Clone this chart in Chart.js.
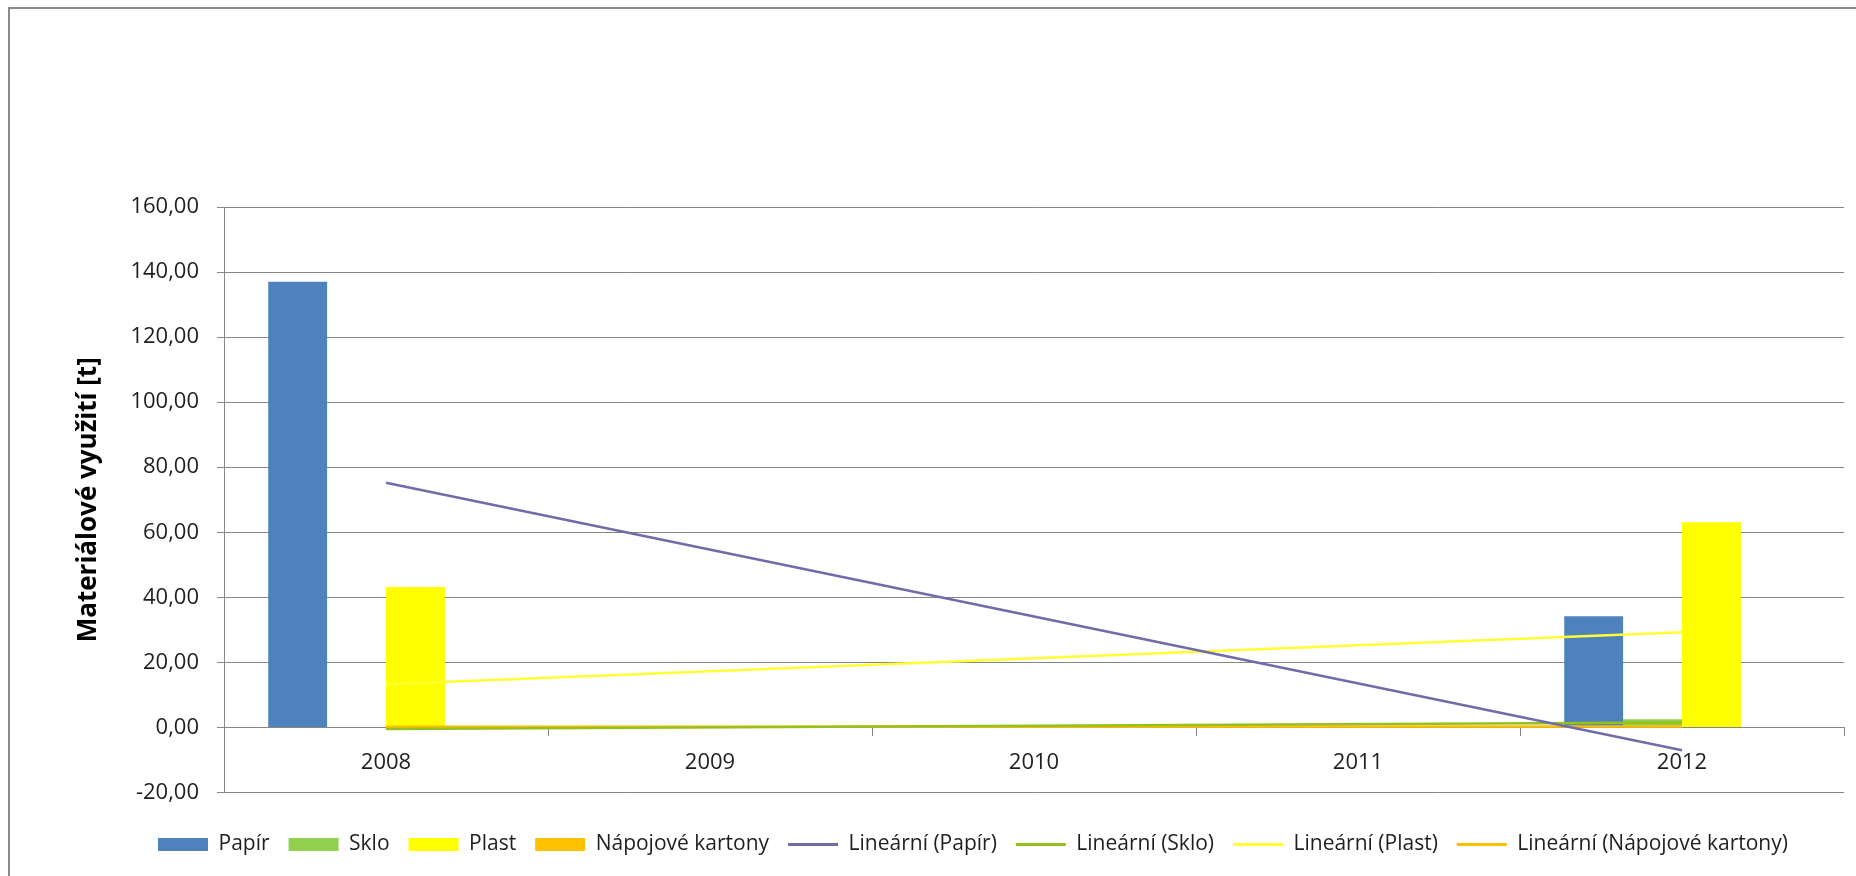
<!DOCTYPE html>
<html>
<head>
<meta charset="utf-8">
<title>Materiálové využití</title>
<script src="https://cdn.jsdelivr.net/npm/chart.js@4.4.1/dist/chart.umd.min.js"></script>
<style>
  html, body { margin: 0; padding: 0; background: #fff; overflow: hidden; }
  #wrap { position: relative; width: 1856px; height: 876px; overflow: hidden; }
  #frame { position: absolute; left: 8px; top: 7px; width: 3000px; height: 3000px; border: 2px solid #8a8a8a; pointer-events: none; }
</style>
</head>
<body>
<div id="wrap">
  <canvas id="chart" width="1856" height="876"></canvas>
  <div id="frame"></div>
</div>
<script>
// data
const years = ['2008', '2009', '2010', '2011', '2012'];
const papir = [137.0, 0, 0, 0, 34.2];
const sklo = [0, 0, 0, 0, 2.5];
const plast = [43.2, 0, 0, 0, 63.1];
const kartony = [0.3, 0, 0, 0, 0];

// trend lines, only the end points are visible
const trendPapir = [75.2, null, null, null, -7.0];
const trendSklo = [-0.5, null, null, null, 1.5];
const trendPlast = [13.3, null, null, null, 29.3];
const trendKartony = [0.2, null, null, null, 0.3];

const yTicks = ['-20,00', '0,00', '20,00', '40,00', '60,00', '80,00', '100,00', '120,00', '140,00', '160,00'];

const FONT = "'Open Sans', sans-serif";
const GRID = '#868686';
const TEXT = '#1f1f1f';

function bar(label, data, color) {
  return {
    type: 'bar', label: label, data: data,
    backgroundColor: color, borderWidth: 0,
    pointStyle: 'rect', order: 1
  };
}

function trend(label, data, color) {
  return {
    type: 'line', label: label, data: data,
    borderColor: color, backgroundColor: color, borderWidth: 2.5,
    pointRadius: 0, pointStyle: 'line', spanGaps: true, order: 0
  };
}

const ctx = document.getElementById('chart');
new Chart(ctx, {
  data: {
    labels: years,
    datasets: [
      bar('Papír', papir, '#4f81bd'),
      bar('Sklo', sklo, '#92d050'),
      bar('Plast', plast, '#ffff00'),
      bar('Nápojové kartony', kartony, '#ffc000'),
      trend('Lineární (Papír)', trendPapir, '#6f6ca8'),
      trend('Lineární (Sklo)', trendSklo, '#94c11f'),
      trend('Lineární (Plast)', trendPlast, '#ffff33'),
      trend('Lineární (Nápojové kartony)', trendKartony, '#ffc000')
    ]
  },
  options: {
    responsive: false,
    animation: false,
    devicePixelRatio: 1,
    layout: { padding: { left: 0, right: -90, top: 207, bottom: 11 } },
    datasets: { bar: { categoryPercentage: 0.727, barPercentage: 1 } },
    plugins: {
      tooltip: { enabled: false },
      legend: {
        position: 'bottom',
        title: { display: true, text: '', font: { size: 12, lineHeight: 1 }, padding: { top: 10.5, bottom: 0 } },
        labels: {
          usePointStyle: true,
          pointStyleWidth: 50,
          boxHeight: 13,
          padding: 19,
          color: TEXT,
          font: { family: FONT, size: 21 },
          sort: (a, b) => a.datasetIndex - b.datasetIndex,
          generateLabels: function(chart) {
            const items = Chart.defaults.plugins.legend.labels.generateLabels(chart);
            items.forEach(it => {
              const ds = chart.data.datasets[it.datasetIndex];
              it.lineWidth = ds.type === 'bar' ? 0 : 3;
            });
            return items;
          }
        }
      }
    },
    scales: {
      x: {
        type: 'category',
        position: { y: 0 },
        offset: true,
        grid: { offset: true, drawOnChartArea: false, drawTicks: true, tickLength: 8, color: GRID },
        border: { color: GRID },
        ticks: { padding: 14, color: TEXT, font: { family: FONT, size: 22 } }
      },
      y: {
        type: 'linear',
        position: 'left',
        min: -20,
        max: 160,
        grid: { color: GRID, tickLength: 7 },
        border: { color: GRID },
        ticks: {
          stepSize: 20,
          padding: 18,
          color: TEXT,
          font: { family: FONT, size: 22 },
          callback: (v, i) => yTicks[i]
        },
        title: {
          display: true,
          text: 'Materiálové využití [t]',
          color: '#000',
          font: { family: FONT, size: 26, weight: 'bold' },
          padding: { top: 73, bottom: 0 }
        },
        afterFit: s => { s.width = 224; }
      },
      y2: {
        type: 'linear',
        position: 'right',
        grid: { display: false },
        border: { display: false },
        ticks: { display: false },
        afterFit: s => { s.width = 102; }
      }
    }
  }
});
</script>
</body>
</html>
